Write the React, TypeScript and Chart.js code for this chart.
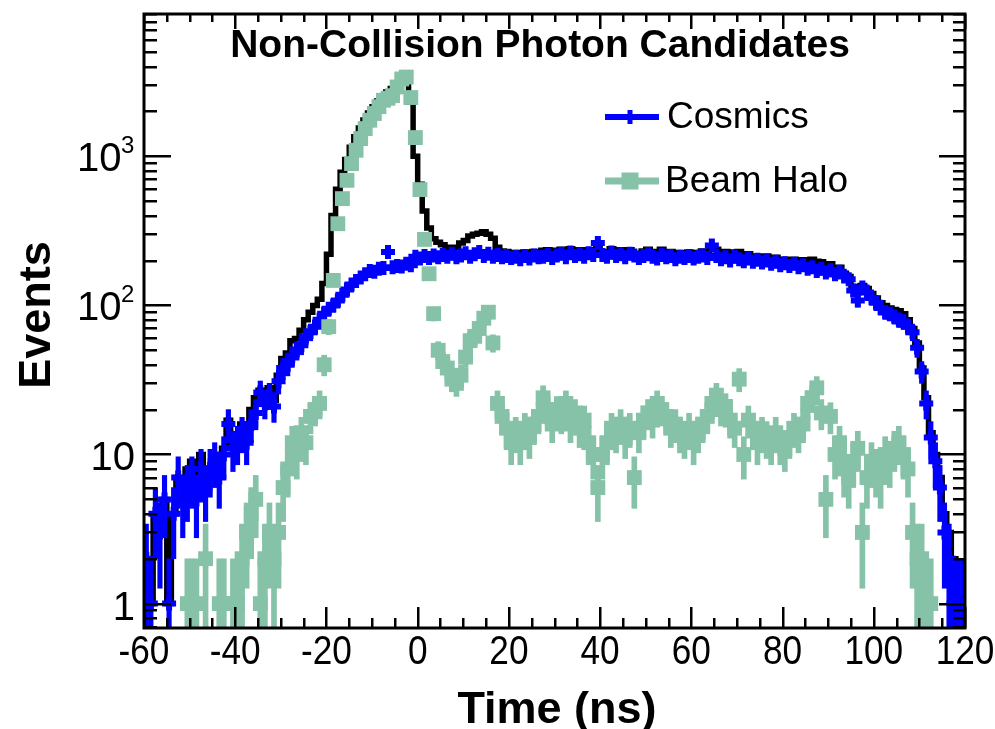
import React, { useEffect, useRef } from 'react';
import { Chart, registerables } from 'chart.js';

Chart.register(...registerables);

// ---- histogram binning (1 ns bins from -60 ns to 120 ns) ----
const BIN_START = -60;
const BIN_WIDTH = 1;

// Cosmics template (blue)
const cosmics: number[] = [
  2, 1, 4, 3, 5, 1, 4, 7, 5, 6,
  7, 5, 8, 6, 8, 9, 7, 10, 16, 11,
  12, 14, 12, 16, 19, 26, 22, 25, 21, 31,
  38, 40, 46, 50, 54, 62, 66, 72, 80, 88,
  95, 100, 108, 118, 128, 138, 146, 154, 162, 170,
  168, 176, 178, 228, 180, 184, 182, 190, 186, 212,
  206, 214, 208, 216, 210, 218, 212, 222, 210, 216,
  224, 212, 220, 228, 214, 222, 212, 218, 210, 214,
  208, 212, 204, 214, 206, 216, 210, 212, 218, 208,
  216, 222, 210, 226, 214, 220, 212, 224, 218, 262,
  218, 212, 226, 214, 220, 210, 222, 216, 208, 214,
  220, 212, 206, 218, 210, 214, 204, 212, 208, 214,
  206, 212, 216, 208, 252, 214, 204, 210, 200, 212,
  204, 198, 206, 196, 202, 194, 200, 190, 196, 186,
  192, 184, 190, 180, 186, 176, 180, 170, 176, 166,
  172, 162, 168, 156, 150, 126, 108, 132, 122, 112,
  104, 96, 90, 88, 84, 80, 78, 72, 66, 52,
  36, 22, 13, 9, 6, 3, 2, 1, 1, 1,
];

// Beam halo template (green); null = empty bin
const beamHalo: (number | null)[] = [
  null, null, null, null, null, null, null, null, null, 1,
  1, 1, null, 2, null, null, 1, 1, null, 1,
  1, 2, 3, 4, 5, 1, 2, 3, 2, 3,
  6, 8, 12, 10, 14, 12, 18, 20, 22, 40,
  72, 147, 353, 520, 690, 893, 1097, 1315, 1534, 1745,
  1936, 2150, 2376, 2450, 2550, 2917, 3300, 3400, 2477, 1335,
  598, 277, 163, 88, 50, 42, 38, 32, 30, 34,
  45, 58, 62, 70, 82, 90, 56, 22, 18, 15,
  12, 14, 12, 15, 13, 16, 18, 24, 20, 16,
  20, 18, 22, 16, 19, 15, 17, 12, 10, 6,
  10, 12, 15, 14, 16, 13, 15, 7, 14, 17,
  19, 17, 22, 20, 18, 15, 16, 14, 13, 15,
  12, 14, 16, 18, 22, 25, 20, 21, 17, 15,
  32, 10, 17, 15, 12, 14, 13, 12, 14, 12,
  11, 13, 15, 14, 16, 22, 24, 28, 19, 5,
  18, 10, 12, 8, 7, 9, 11, 3, 7, 9,
  8, 7, 10, 9, 11, 12, 10, 8, 3, 2,
  2, 1, 1, null, null, null, null, null, null, null,
];

// Data (black histogram line)
const dataCounts: number[] = [
  2, 1, 4, 3, 5, 1, 4, 7, 6, 8,
  9, 6, 10, 8, 8, 9, 8, 11, 17, 12,
  13, 16, 15, 20, 24, 27, 24, 28, 23, 34,
  44, 48, 58, 60, 68, 80, 90, 100, 110, 140,
  220, 400, 600, 780, 950, 1150, 1350, 1550, 1750, 1950,
  2150, 2350, 2550, 2700, 2850, 3100, 3350, 3300, 2300, 1000,
  650, 430, 330, 280, 265, 255, 245, 240, 245, 262,
  272, 292, 300, 305, 312, 300, 282, 245, 232, 230,
  222, 226, 218, 228, 222, 230, 228, 234, 236, 226,
  234, 238, 230, 240, 232, 236, 230, 236, 230, 240,
  230, 226, 240, 228, 236, 224, 236, 224, 222, 232,
  238, 230, 228, 238, 228, 230, 220, 226, 222, 228,
  218, 226, 232, 226, 246, 238, 226, 230, 218, 228,
  230, 210, 222, 212, 214, 208, 214, 202, 210, 198,
  204, 196, 204, 194, 202, 198, 204, 198, 196, 172,
  190, 172, 180, 164, 156, 134, 122, 136, 130, 120,
  112, 104, 100, 96, 94, 92, 88, 80, 70, 56,
  38, 24, 14, 10, 7, 4, 3, 2, 0.5, 0.5,
];

const xTickLabels = [-60, -40, -20, 0, 20, 40, 60, 80, 100, 120];
const yDecadeLabels = [
  { value: 1, base: '1', sup: '' },
  { value: 10, base: '10', sup: '' },
  { value: 100, base: '10', sup: '2' },
  { value: 1000, base: '10', sup: '3' },
];
const X_MIN = -60;
const X_MAX = 120;
const Y_MIN = 0.686;
const Y_MAX = 9000;

const TITLE = 'Non-Collision Photon Candidates';
const X_TITLE = 'Time (ns)';
const Y_TITLE = 'Events';
const LEGEND = ['Cosmics', 'Beam Halo'];

const BLUE = '#0000ff';
const GREEN = '#85c2a7';
const FONT = '"Liberation Sans", Arial, Helvetica, sans-serif';

export default function App() {
  const ref = useRef<HTMLCanvasElement>(null);

  useEffect(() => {
    if (!ref.current) return;
    const centers = cosmics.map((_, i) => BIN_START + BIN_WIDTH * (i + 0.5));
    const toPoints = (arr: (number | null)[]) =>
      arr
        .map((v, i) => (v == null ? null : { x: centers[i], y: v }))
        .filter((p) => p !== null) as { x: number; y: number }[];
    const toErrors = (arr: (number | null)[]) =>
      arr
        .map((v, i) =>
          v == null
            ? null
            : { x: centers[i], y: [Math.max(v - Math.sqrt(v), 0.01), v + Math.sqrt(v)] }
        )
        .filter((p) => p !== null) as any[];

    const framePlugin = {
      id: 'rootFrame',
      afterDatasetsDraw(chart: any) {
        const { ctx, chartArea: a, scales } = chart;
        const xs = scales.x;
        const ys = scales.y;
        ctx.save();
        ctx.strokeStyle = '#000';
        ctx.lineWidth = 2.5;
        ctx.beginPath();
        for (let v = X_MIN; v <= X_MAX; v += 5) {
          const px = Math.round(xs.getPixelForValue(v)) + 0.25;
          const major = v % 20 === 0;
          ctx.moveTo(px, a.bottom);
          ctx.lineTo(px, a.bottom - (major ? 21 : 10));
          ctx.moveTo(px, a.top);
          ctx.lineTo(px, a.top + (major ? 15 : 8));
        }
        for (let e = -1; e <= 3; e++) {
          for (let m = 1; m <= 9; m++) {
            const v = m * Math.pow(10, e);
            if (v < Y_MIN || v > Y_MAX) continue;
            const py = Math.round(ys.getPixelForValue(v)) + 0.25;
            const major = m === 1;
            ctx.moveTo(a.left, py);
            ctx.lineTo(a.left + (major ? 27 : 13), py);
            ctx.moveTo(a.right, py);
            ctx.lineTo(a.right - (major ? 26 : 12), py);
          }
        }
        ctx.stroke();
        ctx.lineWidth = 3;
        ctx.strokeRect(a.left, a.top, a.right - a.left, a.bottom - a.top);
        ctx.restore();
      },
      afterDraw(chart: any) {
        const { ctx, scales } = chart;
        const xs = scales.x;
        const ys = scales.y;
        ctx.save();
        ctx.fillStyle = '#000';
        // x tick labels (slightly condensed)
        ctx.font = `40px ${FONT}`;
        ctx.textAlign = 'center';
        ctx.textBaseline = 'alphabetic';
        xTickLabels.forEach((v) => {
          const px = xs.getPixelForValue(v);
          ctx.save();
          ctx.translate(px, 664);
          ctx.scale(0.88, 1);
          ctx.fillText(String(v), 0, 0);
          ctx.restore();
        });
        // y tick labels
        yDecadeLabels.forEach((d) => {
          const py = ys.getPixelForValue(d.value);
          if (d.sup) {
            ctx.font = `40px ${FONT}`;
            ctx.textAlign = 'right';
            ctx.fillText(d.base, 121.5, py + 14.5);
            ctx.font = `24px ${FONT}`;
            ctx.textAlign = 'left';
            ctx.fillText(d.sup, 121, py - 3);
          } else {
            ctx.font = `40px ${FONT}`;
            ctx.textAlign = 'right';
            ctx.fillText(d.base, 135, py + 16);
          }
        });
        // axis titles
        ctx.font = `bold 45px ${FONT}`;
        ctx.textAlign = 'center';
        ctx.fillText(X_TITLE, 557, 723);
        ctx.save();
        ctx.translate(50, 315);
        ctx.rotate(-Math.PI / 2);
        ctx.fillText(Y_TITLE, 0, 0);
        ctx.restore();
        // title
        ctx.font = `bold 39px ${FONT}`;
        ctx.textAlign = 'center';
        ctx.fillText(TITLE, 540, 57);
        // legend
        ctx.lineCap = 'butt';
        ctx.strokeStyle = BLUE;
        ctx.lineWidth = 6;
        ctx.beginPath();
        ctx.moveTo(605, 117);
        ctx.lineTo(659, 117);
        ctx.stroke();
        ctx.lineWidth = 5;
        ctx.beginPath();
        ctx.moveTo(630, 110);
        ctx.lineTo(630, 124);
        ctx.stroke();
        ctx.strokeStyle = GREEN;
        ctx.lineWidth = 7;
        ctx.beginPath();
        ctx.moveTo(605, 181);
        ctx.lineTo(659, 181);
        ctx.stroke();
        ctx.fillStyle = GREEN;
        ctx.fillRect(621.5, 172.5, 17, 17);
        ctx.fillStyle = '#000';
        ctx.font = `37px ${FONT}`;
        ctx.textAlign = 'left';
        ctx.fillText(LEGEND[0], 667, 128);
        ctx.fillText(LEGEND[1], 665, 192);
        ctx.restore();
      },
    };

    const chart = new Chart(ref.current, {
      type: 'line',
      data: {
        datasets: [
          {
            type: 'scatter',
            label: LEGEND[1],
            data: toPoints(beamHalo),
            pointStyle: 'rect',
            pointRadius: 10.5,
            pointBackgroundColor: GREEN,
            pointBorderWidth: 0,
            borderWidth: 0,
            showLine: false,
            order: 1,
            clip: 0,
          } as any,
          {
            type: 'bar',
            label: 'halo-err',
            data: toErrors(beamHalo),
            backgroundColor: GREEN,
            borderWidth: 0,
            barThickness: 5,
            grouped: false,
            order: 2,
            clip: 0,
          } as any,
          {
            type: 'scatter',
            label: LEGEND[0],
            data: toPoints(cosmics),
            pointStyle: 'cross',
            pointRadius: 7,
            pointBorderColor: BLUE,
            pointBorderWidth: 6,
            borderWidth: 0,
            showLine: false,
            order: 3,
            clip: 0,
          } as any,
          {
            type: 'bar',
            label: 'cosmics-err',
            data: toErrors(cosmics),
            backgroundColor: BLUE,
            borderWidth: 0,
            barThickness: 4.5,
            grouped: false,
            order: 4,
            clip: 0,
          } as any,
          {
            type: 'line',
            label: 'Data',
            data: toPoints(dataCounts),
            borderColor: '#000',
            borderWidth: 5.5,
            pointRadius: 0,
            stepped: 'middle',
            tension: 0,
            fill: false,
            order: 5,
            clip: 0,
          } as any,
        ],
      },
      options: {
        animation: false,
        responsive: false,
        devicePixelRatio: 1,
        layout: { padding: { top: 14, right: 30, left: 0, bottom: 0 } },
        plugins: {
          legend: { display: false },
          title: { display: false },
          tooltip: { enabled: false },
        },
        scales: {
          x: {
            type: 'linear',
            min: X_MIN,
            max: X_MAX,
            offset: false,
            grid: { display: false },
            border: { display: false },
            ticks: { display: false },
            afterFit: (s: any) => {
              s.height = 101;
            },
          },
          y: {
            type: 'logarithmic',
            min: Y_MIN,
            max: Y_MAX,
            grid: { display: false },
            border: { display: false },
            ticks: { display: false },
            afterFit: (s: any) => {
              s.width = 144;
            },
          },
        },
      } as any,
      plugins: [framePlugin],
    });
    return () => chart.destroy();
  }, []);

  return (
    <div style={{ position: 'fixed', left: 0, top: 0, width: 995, height: 729, background: '#fff' }}>
      <canvas ref={ref} width={995} height={729} style={{ display: 'block' }} />
    </div>
  );
}
